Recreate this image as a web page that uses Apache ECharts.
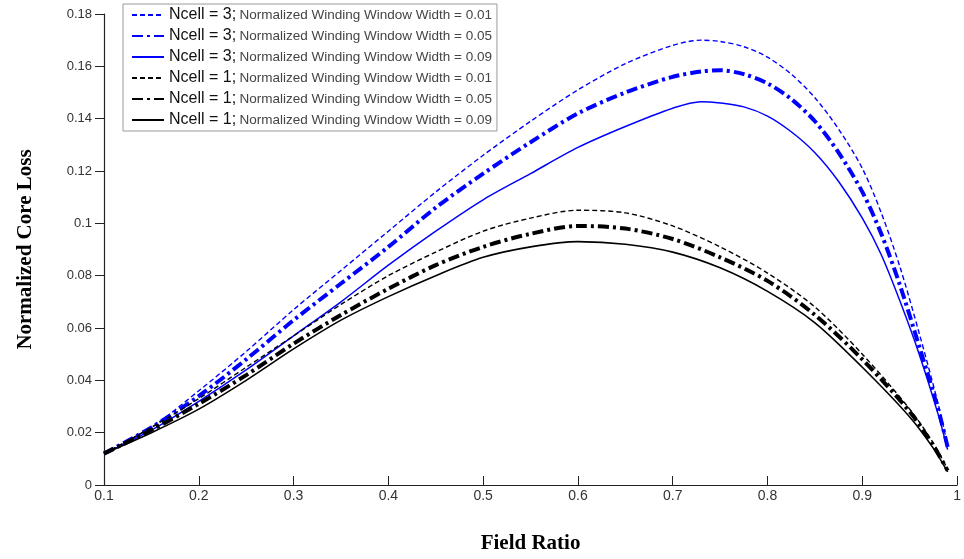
<!DOCTYPE html>
<html>
<head>
<meta charset="utf-8">
<script src="https://cdn.jsdelivr.net/npm/echarts@6/dist/echarts.min.js"></script>
<style>
  html, body { margin: 0; padding: 0; background: #fff; }
  #chart { width: 964px; height: 559px; }
</style>
</head>
<body>
<div id="chart"></div>
<script>
// Field ratio sample points for each curve
const xN3 = [0.1, 0.15, 0.2, 0.25, 0.3, 0.35, 0.4, 0.45, 0.5, 0.55, 0.6, 0.65, 0.7, 0.73, 0.75, 0.775, 0.8, 0.825, 0.85, 0.875, 0.9, 0.92, 0.94, 0.96, 0.98, 0.99];
const xN1 = [0.1, 0.15, 0.2, 0.25, 0.3, 0.35, 0.4, 0.45, 0.5, 0.55, 0.6, 0.65, 0.7, 0.75, 0.8, 0.85, 0.9, 0.95, 0.975, 0.99];

// Normalized core loss, Ncell = 3
const n3w001 = [0.012, 0.022, 0.036, 0.051, 0.067, 0.082, 0.097, 0.112, 0.126, 0.139, 0.151, 0.161, 0.168, 0.170, 0.1695, 0.1675, 0.1635, 0.157, 0.148, 0.136, 0.121, 0.104, 0.083, 0.058, 0.031, 0.015];
const n3w005 = [0.012, 0.022, 0.034, 0.048, 0.063, 0.077, 0.091, 0.106, 0.119, 0.131, 0.142, 0.150, 0.156, 0.158, 0.1585, 0.157, 0.1535, 0.1475, 0.139, 0.127, 0.112, 0.096, 0.076, 0.053, 0.029, 0.0145];
const n3w009 = [0.012, 0.021, 0.032, 0.044, 0.057, 0.070, 0.084, 0.097, 0.109, 0.119, 0.129, 0.137, 0.144, 0.1465, 0.146, 0.1445, 0.141, 0.135, 0.127, 0.116, 0.102, 0.088, 0.070, 0.050, 0.027, 0.0135];

// Normalized core loss, Ncell = 1
const n1w001 = [0.012, 0.022, 0.033, 0.045, 0.057, 0.069, 0.080, 0.089, 0.097, 0.102, 0.105, 0.104, 0.099, 0.091, 0.081, 0.068, 0.050, 0.029, 0.016, 0.006];
const n1w005 = [0.012, 0.021, 0.031, 0.042, 0.054, 0.065, 0.075, 0.084, 0.091, 0.096, 0.099, 0.098, 0.094, 0.087, 0.078, 0.065, 0.048, 0.028, 0.015, 0.0055];
const n1w009 = [0.012, 0.020, 0.029, 0.040, 0.052, 0.063, 0.072, 0.080, 0.087, 0.091, 0.093, 0.092, 0.089, 0.083, 0.074, 0.062, 0.045, 0.026, 0.014, 0.005];

const seriesNames = [
  'Ncell = 3; Normalized Winding Window Width = 0.01',
  'Ncell = 3; Normalized Winding Window Width = 0.05',
  'Ncell = 3; Normalized Winding Window Width = 0.09',
  'Ncell = 1; Normalized Winding Window Width = 0.01',
  'Ncell = 1; Normalized Winding Window Width = 0.05',
  'Ncell = 1; Normalized Winding Window Width = 0.09'
];

const xTicks = ['0.1', '0.2', '0.3', '0.4', '0.5', '0.6', '0.7', '0.8', '0.9', '1'];
const yTicks = ['0', '0.02', '0.04', '0.06', '0.08', '0.1', '0.12', '0.14', '0.16', '0.18'];

const BLUE = '#0000ff';
const BLACK = '#000000';
const dashed = [5, 3];
const dashDot = [11, 4, 3, 4];

function pairs(xs, ys) { return xs.map((x, i) => [x, ys[i]]); }

function curve(name, xs, ys, color, type, width) {
  return {
    name: name,
    type: 'line',
    data: pairs(xs, ys),
    smooth: 0.3,
    symbol: 'none',
    lineStyle: { color: color, width: width, type: type },
    itemStyle: { color: color },
    z: 3
  };
}

const chart = echarts.init(document.getElementById('chart'), null, { renderer: 'canvas' });

chart.setOption({
  animation: false,
  backgroundColor: '#ffffff',
  grid: { left: 104, right: 1, top: 14, bottom: 71 },
  xAxis: {
    type: 'value',
    min: 0.1,
    max: 1,
    interval: 0.1,
    name: 'Field Ratio',
    nameLocation: 'middle',
    nameGap: 48,
    nameTextStyle: { fontFamily: 'Liberation Serif', fontWeight: 'bold', fontSize: 21, color: '#000' },
    axisLine: { show: true, lineStyle: { color: '#222', width: 1.2 } },
    axisTick: { show: true, inside: true, length: 9, lineStyle: { color: '#222' } },
    axisLabel: {
      color: '#333',
      fontFamily: 'Liberation Sans Narrow, Liberation Sans, Arial',
      fontSize: 14,
      margin: 4,
      formatter: v => xTicks[Math.round((v - 0.1) * 10)] || ''
    },
    splitLine: { show: false }
  },
  yAxis: {
    type: 'value',
    min: 0,
    max: 0.18,
    interval: 0.02,
    name: 'Normalized Core Loss',
    nameLocation: 'middle',
    nameGap: 68,
    nameTextStyle: { fontFamily: 'Liberation Serif', fontWeight: 'bold', fontSize: 21, color: '#000' },
    axisLine: { show: true, lineStyle: { color: '#222', width: 1.2 } },
    axisTick: { show: true, inside: false, length: 9, lineStyle: { color: '#222' } },
    axisLabel: {
      color: '#333',
      fontFamily: 'Liberation Sans, Arial',
      fontSize: 13,
      margin: 12,
      formatter: v => yTicks[Math.round(v * 50)] || ''
    },
    splitLine: { show: false }
  },
  legend: {
    orient: 'vertical',
    left: 123,
    top: 4,
    padding: [3, 5, 3, 8],
    itemWidth: 32,
    itemHeight: 14,
    itemGap: 5,
    backgroundColor: '#ffffff',
    borderColor: '#9a9a9a',
    borderWidth: 1,
    borderRadius: 0,
    itemStyle: { opacity: 0 },
    data: seriesNames,
    formatter: function (name) {
      const idx = name.indexOf(';');
      return '{a|' + name.slice(0, idx + 1) + '} {b|' + name.slice(idx + 2) + '}';
    },
    textStyle: {
      lineHeight: 15,
      rich: {
        a: { fontFamily: 'Liberation Sans, Arial', fontSize: 16, lineHeight: 15, color: '#111' },
        b: { fontFamily: 'Liberation Sans Narrow, Liberation Sans, Arial', fontSize: 13.5, lineHeight: 15, color: '#444' }
      }
    }
  },
  series: [
    curve(seriesNames[0], xN3, n3w001, BLUE, dashed, 1.4),
    curve(seriesNames[1], xN3, n3w005, BLUE, dashDot, 4),
    curve(seriesNames[2], xN3, n3w009, BLUE, 'solid', 1.5),
    curve(seriesNames[3], xN1, n1w001, BLACK, dashed, 1.4),
    curve(seriesNames[4], xN1, n1w005, BLACK, dashDot, 4),
    curve(seriesNames[5], xN1, n1w009, BLACK, 'solid', 1.6)
  ]
});
</script>
</body>
</html>
